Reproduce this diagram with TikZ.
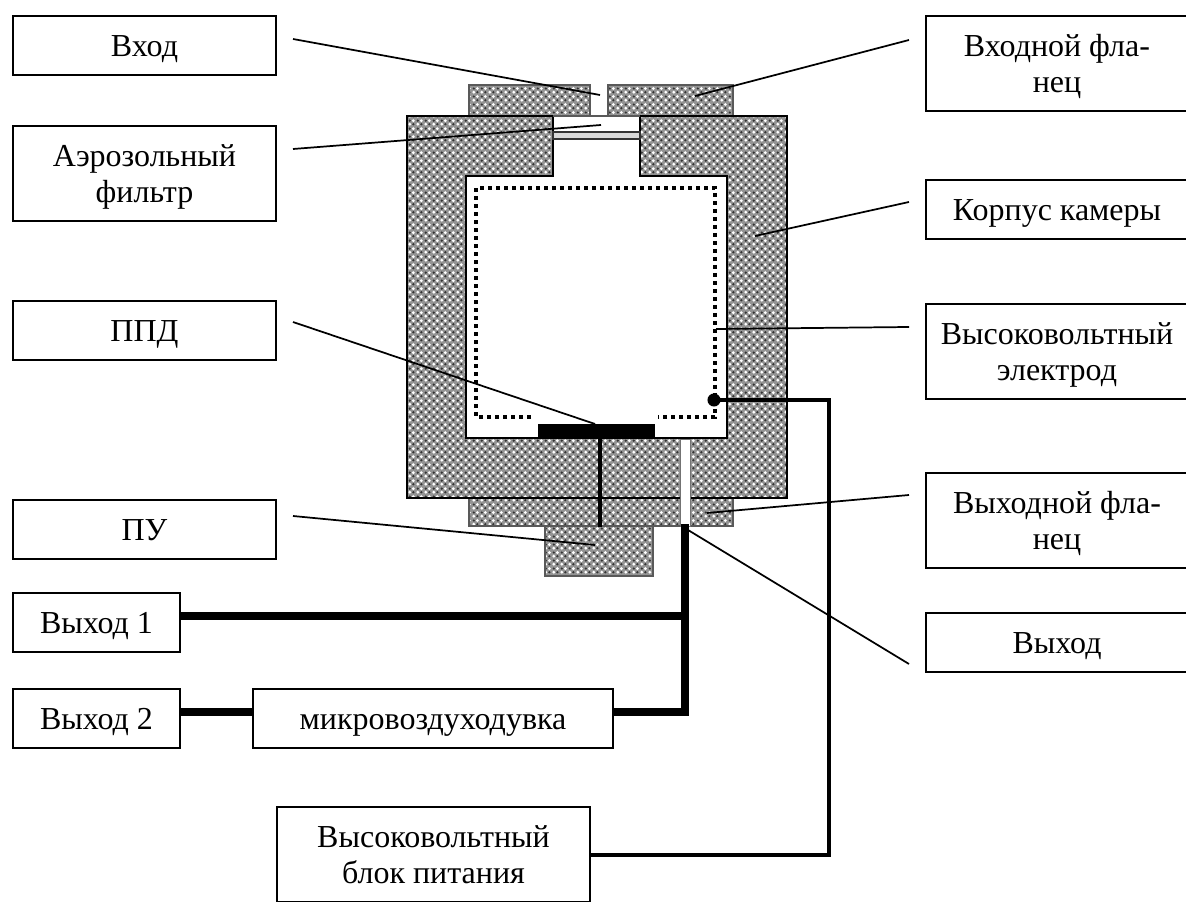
\documentclass[tikz,border=0pt]{standalone}
\usepackage{fontspec}
\setmainfont{Liberation Serif}
\usetikzlibrary{patterns}
\pgfdeclarepatternformonly{meshlight}{\pgfpointorigin}{\pgfqpoint{6pt}{6pt}}{\pgfqpoint{6pt}{6pt}}{%
  \pgfpathcircle{\pgfqpoint{1.5pt}{1.5pt}}{1.3pt}%
  \pgfpathcircle{\pgfqpoint{4.5pt}{4.5pt}}{1.3pt}%
  \pgfusepath{fill}}
\pgfdeclarepatternformonly{meshdark}{\pgfpointorigin}{\pgfqpoint{6pt}{6pt}}{\pgfqpoint{6pt}{6pt}}{%
  \pgfpathcircle{\pgfqpoint{1.5pt}{4.5pt}}{1pt}%
  \pgfpathcircle{\pgfqpoint{4.5pt}{1.5pt}}{1pt}%
  \pgfusepath{fill}}
\definecolor{meshgray}{gray}{0.58}
\tikzset{
  mesh/.style={preaction={fill=meshgray},preaction={pattern=meshdark,pattern color=black!80},preaction={pattern=meshlight,pattern color=white}},
  labelbox/.style={draw=black,line width=1.5pt,fill=white,inner sep=0pt,outer sep=0pt,anchor=north west},
  boxtext/.style={align=center,inner sep=0pt,yshift=-2.8pt,font=\fontsize{24}{27.6}\selectfont},
  leader/.style={draw=black,line width=1.3pt},
  heavy/.style={draw=black,line width=6pt},
  medium/.style={draw=black,line width=3pt},
  wall/.style={draw=black,line width=1.9pt},
  rim/.style={draw=black!65,line width=.9pt},
}
\begin{document}
\begin{tikzpicture}[x=0.75pt,y=-0.75pt]
\useasboundingbox (0,0) rectangle (1186,902);
\fill[white] (0,0) rectangle (1186,902);
% flanges and preamp
\path[mesh,rim] (469,85) rectangle (590,116);
\path[mesh,rim] (608,85) rectangle (733,116);
\path[mesh,rim] (469,498) rectangle (733,526);
\path[mesh,rim] (545,526) rectangle (653,576);
% body
\path[mesh,wall] (407,116) -- (553,116) -- (553,176) -- (466,176) -- (466,438) -- (727,438) -- (727,176) -- (640,176) -- (640,116) -- (787,116) -- (787,498) -- (407,498) -- cycle;
% neck: top rim and filter
\draw[black!65,line width=.9pt] (553,116) -- (640,116);
\path[draw=black!80,line width=.9pt,fill=black!15] (553,132) rectangle (640,139);
% outlet channel
\path[fill=white,draw=black!55,line width=.7pt] (680,439) rectangle (690,526);
% electrode
\draw[black,line width=3pt,dash pattern=on 3pt off 3pt] (531,417) -- (476,417) -- (476,188) -- (715,188) -- (715,417) -- (658,417);
% detector
\fill[black] (538,424) rectangle (655,438);
\coordinate (wiretop) at (600,438);
\coordinate (wirebot) at (600,527);
\draw[black,line width=3.2pt] (wiretop) -- (wirebot);
% boxes
\node[labelbox,minimum width=197.25pt,minimum height=44.25pt,label={[boxtext]center:\strut Вход}] (vhod) at (13,16) {};
\node[labelbox,minimum width=197.25pt,minimum height=71.25pt,label={[boxtext]center:\strut Аэрозольный\\\strut фильтр}] (filt) at (13,126) {};
\node[labelbox,minimum width=197.25pt,minimum height=44.25pt,label={[boxtext]center:\strut ППД}] (ppd) at (13,301) {};
\node[labelbox,minimum width=197.25pt,minimum height=44.25pt,label={[boxtext]center:\strut ПУ}] (pu) at (13,500) {};
\node[labelbox,minimum width=125.25pt,minimum height=43.9pt,label={[boxtext]center:\strut Выход 1}] (out1) at (13,593) {};
\node[labelbox,minimum width=125.25pt,minimum height=44.25pt,label={[boxtext]center:\strut Выход 2}] (out2) at (13,689) {};
\node[labelbox,minimum width=270pt,minimum height=44.25pt,label={[boxtext]center:\strut микровоздуходувка}] (blower) at (253,689) {};
\node[labelbox,minimum width=234.75pt,minimum height=71.25pt,label={[boxtext]center:\strut Высоковольтный\\\strut блок питания}] (psu) at (277,807) {};
\node[labelbox,minimum width=196.5pt,minimum height=71.25pt,label={[boxtext]center:\strut Входной фла-\\\strut нец}] (inflange) at (926,16) {};
\node[labelbox,minimum width=196.5pt,minimum height=44.25pt,label={[boxtext]center:\strut Корпус камеры}] (case) at (926,180) {};
\node[labelbox,minimum width=196.5pt,minimum height=71.25pt,label={[boxtext]center:\strut Высоковольтный\\\strut электрод}] (hv) at (926,304) {};
\node[labelbox,minimum width=196.5pt,minimum height=71.25pt,label={[boxtext]center:\strut Выходной фла-\\\strut нец}] (outflange) at (926,473) {};
\node[labelbox,minimum width=196.5pt,minimum height=44.25pt,label={[boxtext]center:\strut Выход}] (outbox) at (926,613) {};
% heavy connectors
\coordinate (stackbot) at (685,712);
\coordinate (stacktop) at (685,524);
\coordinate (junction) at (685,616);
\draw[heavy] (stacktop) -- (stackbot) -- (blower.east |- stackbot);
\draw[heavy] (out1.east |- junction) -- (junction);
\draw[heavy] (out2.east |- stackbot) -- (blower.west |- stackbot);
% HV line
\coordinate (dot) at (714,400);
\coordinate (hvcorner) at (829,400);
\coordinate (hvlow) at (829,855);
\fill[black] (dot) circle (4.9pt);
\draw[medium] (dot) -- (hvcorner) -- (hvlow) -- (psu.east |- hvlow);
% leaders
\coordinate (l1a) at (293,39);   \coordinate (l1b) at (600,95);
\coordinate (l2a) at (293,149);  \coordinate (l2b) at (601,125);
\coordinate (l3a) at (293,322);  \coordinate (l3b) at (595,424);
\coordinate (l4a) at (293,516);  \coordinate (l4b) at (595,545);
\coordinate (r1a) at (909,40);   \coordinate (r1b) at (695,96);
\coordinate (r2a) at (909,202);  \coordinate (r2b) at (755,236);
\coordinate (r3a) at (909,327);  \coordinate (r3b) at (716,329);
\coordinate (r4a) at (909,495);  \coordinate (r4b) at (707,513);
\coordinate (r5a) at (909,664);  \coordinate (r5b) at (688,530);
\foreach \a/\b in {l1a/l1b,l2a/l2b,l3a/l3b,l4a/l4b,r1a/r1b,r2a/r2b,r3a/r3b,r4a/r4b,r5a/r5b}
  \draw[leader] (\a) -- (\b);
\end{tikzpicture}
\end{document}
